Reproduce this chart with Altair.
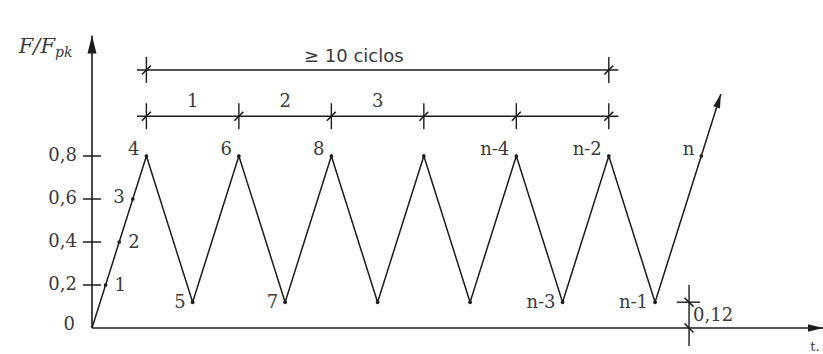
import math
import altair as alt
import pandas as pd

# ---- load cycle: F/Fpk against time (t in units where one F-unit rise = one t-unit) ----
CYCLE_T = [0, 0.8, 1.48, 2.16, 2.84, 3.52, 4.2, 4.88, 5.56, 6.24, 6.92, 7.6, 8.28, 9.248]
CYCLE_F = [0, 0.8, 0.12, 0.8, 0.12, 0.8, 0.12, 0.8, 0.12, 0.8, 0.12, 0.8, 0.12, 1.088]

# marked points on the first ramp
RAMP_LABELS = ["1", "2", "3"]
RAMP_T = [0.2, 0.4, 0.6]
RAMP_F = [0.2, 0.4, 0.6]

# peaks (F = 0.8) and valleys (F = 0.12)
PEAK_T = [0.8, 2.16, 3.52, 4.88, 6.24, 7.6, 8.96]
PEAK_LABELS = ["4", "6", "8", "", "n-4", "n-2", "n"]
VALLEY_T = [1.48, 2.84, 4.2, 5.56, 6.92, 8.28]
VALLEY_LABELS = ["5", "7", "", "", "n-3", "n-1"]
PEAK_F = 0.8
VALLEY_F = 0.12

# y axis tick values and their labels
Y_TICKS = [0.2, 0.4, 0.6, 0.8]
Y_LABEL_VALUES = [0, 0.2, 0.4, 0.6, 0.8]
Y_LABEL_TEXT = ["0", "0,2", "0,4", "0,6", "0,8"]

# cycle dimension lines
CYCLE_MARKS_T = [0.8, 2.16, 3.52, 4.88, 6.24, 7.6]
CYCLE_NUMBERS = ["1", "2", "3"]
CYCLE_NUMBER_T = [1.48, 2.84, 4.2]
DIM_LOW_F = 0.985
DIM_TOP_F = 1.2
DIM_TOP_TEXT = "≥ 10 ciclos"
DIM_TOP_TEXT_T = 3.85
DIM_OVERHANG = 0.14

# 0,12 offset dimension
OFFSET_T = 8.78
OFFSET_LINE_F = [-0.084, 0.2]
OFFSET_EXT_T = [8.6, 8.94]
OFFSET_TEXT = "0,12"

# axes extents
T_MAX = 10.75
Y_TIP = 1.36

PX_T = 68.0   # pixels per t unit
PX_F = 215.0  # pixels per F unit
W, H = 731, 328

INK = "#1c1c1c"
TXT = "#3a3a3a"
SERIF = "DejaVu Serif"

xs = alt.Scale(domain=[0, W / PX_T], nice=False, zero=False)
ys = alt.Scale(domain=[0, H / PX_F], nice=False, zero=False)


def X(f="t"):
    return alt.X(f"{f}:Q", scale=xs, axis=None)


def Y(f="F"):
    return alt.Y(f"{f}:Q", scale=ys, axis=None)


cycle_df = pd.DataFrame({"t": CYCLE_T, "F": CYCLE_F, "i": range(len(CYCLE_T))})

load_line = alt.Chart(cycle_df).mark_line(color=INK, strokeWidth=1.5).encode(
    x=X(), y=Y(), order="i:O"
)

# axis lines
y_axis_line = alt.Chart(pd.DataFrame({"t": [0], "F": [0], "F2": [Y_TIP]})).mark_rule(
    color=INK, strokeWidth=1.6
).encode(x=X(), y=Y(), y2="F2:Q")
x_axis_line = alt.Chart(pd.DataFrame({"t": [0], "t2": [T_MAX], "F": [0]})).mark_rule(
    color=INK, strokeWidth=1.6
).encode(x=X(), x2="t2:Q", y=Y())

ARROW = "M0,0L0.5,2L-0.5,2Z"
last_angle = math.degrees(math.atan2(PX_T * (CYCLE_T[-1] - CYCLE_T[-2]),
                                     PX_F * (CYCLE_F[-1] - CYCLE_F[-2])))
arrow_df = pd.DataFrame({
    "t": [0, T_MAX, CYCLE_T[-1]],
    "F": [Y_TIP, 0, CYCLE_F[-1]],
    "angle": [0, 90, last_angle],
    "size": [324, 225, 196],
})
arrows = alt.Chart(arrow_df).mark_point(
    shape=ARROW, filled=True, color=INK, opacity=1, strokeWidth=0
).encode(
    x=X(), y=Y(),
    angle=alt.Angle("angle:Q", scale=None),
    size=alt.Size("size:Q", scale=None),
)

# y ticks crossing the axis, with comma-decimal labels
y_ticks = alt.Chart(pd.DataFrame({"t": [0] * len(Y_TICKS), "F": Y_TICKS})).mark_tick(
    orient="horizontal", size=18, thickness=1.5, color=INK, opacity=1
).encode(x=X(), y=Y())

label_style = dict(font=SERIF, fontSize=18, color=TXT, baseline="middle")

ylab_df = pd.DataFrame({"t": [0] * len(Y_LABEL_VALUES), "F": Y_LABEL_VALUES, "lab": Y_LABEL_TEXT})
y_labels = alt.Chart(ylab_df.iloc[1:]).mark_text(align="right", dx=-15, **label_style).encode(
    x=X(), y=Y(), text="lab:N")
y_label_zero = alt.Chart(ylab_df.iloc[:1]).mark_text(align="right", dx=-17, dy=-3, **label_style).encode(
    x=X(), y=Y(), text="lab:N")

# dots on marked points
dot_df = pd.DataFrame({
    "t": RAMP_T + PEAK_T + VALLEY_T,
    "F": RAMP_F + [PEAK_F] * len(PEAK_T) + [VALLEY_F] * len(VALLEY_T),
})
dots = alt.Chart(dot_df).mark_circle(size=14, color=INK, opacity=1).encode(x=X(), y=Y())

ramp_df = pd.DataFrame({"t": RAMP_T, "F": RAMP_F, "lab": RAMP_LABELS})
ramp_right = alt.Chart(ramp_df.iloc[:2]).mark_text(align="left", dx=9, dy=1, **label_style).encode(
    x=X(), y=Y(), text="lab:N")
ramp_left = alt.Chart(ramp_df.iloc[2:]).mark_text(align="right", dx=-8, dy=-1, **label_style).encode(
    x=X(), y=Y(), text="lab:N")

peak_labels = alt.Chart(pd.DataFrame({"t": PEAK_T, "F": [PEAK_F] * len(PEAK_T), "lab": PEAK_LABELS})).mark_text(
    align="right", dx=-7, dy=-6, **label_style).encode(x=X(), y=Y(), text="lab:N")
valley_labels = alt.Chart(pd.DataFrame({"t": VALLEY_T, "F": [VALLEY_F] * len(VALLEY_T), "lab": VALLEY_LABELS})).mark_text(
    align="right", dx=-7, dy=1, **label_style).encode(x=X(), y=Y(), text="lab:N")

# cycle dimension lines
dim_lines_df = pd.DataFrame({
    "t": [CYCLE_MARKS_T[0] - DIM_OVERHANG] * 2,
    "t2": [CYCLE_MARKS_T[-1] + DIM_OVERHANG] * 2,
    "F": [DIM_LOW_F, DIM_TOP_F],
})
dim_lines = alt.Chart(dim_lines_df).mark_rule(color=INK, strokeWidth=1.4).encode(
    x=X(), x2="t2:Q", y=Y())

dim_marks_df = pd.DataFrame({
    "t": CYCLE_MARKS_T + [CYCLE_MARKS_T[0], CYCLE_MARKS_T[-1]],
    "F": [DIM_LOW_F] * len(CYCLE_MARKS_T) + [DIM_TOP_F] * 2,
})
dim_ticks = alt.Chart(dim_marks_df).mark_tick(
    orient="vertical", size=26, thickness=1.4, color=INK, opacity=1).encode(x=X(), y=Y())
dim_slashes = alt.Chart(dim_marks_df).mark_point(
    shape="M-1,1L1,-1", filled=False, size=80, strokeWidth=1.6, color=INK, opacity=1).encode(x=X(), y=Y())

cycle_numbers = alt.Chart(pd.DataFrame({"t": CYCLE_NUMBER_T, "F": [DIM_LOW_F] * 3, "lab": CYCLE_NUMBERS})).mark_text(
    align="center", dy=-14, **label_style).encode(x=X(), y=Y(), text="lab:N")
top_text = alt.Chart(pd.DataFrame({"t": [DIM_TOP_TEXT_T], "F": [DIM_TOP_F], "lab": [DIM_TOP_TEXT]})).mark_text(
    align="center", dy=-13, font="DejaVu Sans", fontSize=18, color=TXT, baseline="middle").encode(
    x=X(), y=Y(), text="lab:N")

# 0,12 offset dimension
off_line = alt.Chart(pd.DataFrame({"t": [OFFSET_T], "F": [OFFSET_LINE_F[0]], "F2": [OFFSET_LINE_F[1]]})).mark_rule(
    color=INK, strokeWidth=1.4).encode(x=X(), y=Y(), y2="F2:Q")
off_ext = alt.Chart(pd.DataFrame({"t": [OFFSET_EXT_T[0]], "t2": [OFFSET_EXT_T[1]], "F": [VALLEY_F]})).mark_rule(
    color=INK, strokeWidth=1.4).encode(x=X(), x2="t2:Q", y=Y())
off_slashes = alt.Chart(pd.DataFrame({"t": [OFFSET_T, OFFSET_T], "F": [VALLEY_F, 0]})).mark_point(
    shape="M-1,-1L1,1", filled=False, size=80, strokeWidth=1.6, color=INK, opacity=1).encode(x=X(), y=Y())
off_text = alt.Chart(pd.DataFrame({"t": [OFFSET_T], "F": [VALLEY_F / 2], "lab": [OFFSET_TEXT]})).mark_text(
    align="left", dx=4, dy=1, **label_style).encode(x=X(), y=Y(), text="lab:N")

# axis titles
y_title_F = alt.Chart(pd.DataFrame({"t": [0], "F": [1.307], "lab": ["F/F"]})).mark_text(
    align="right", dx=-37, font=SERIF, fontStyle="italic", fontSize=21, color=TXT, baseline="middle").encode(
    x=X(), y=Y(), text="lab:N")
y_title_sub = alt.Chart(pd.DataFrame({"t": [0], "F": [1.307], "lab": ["pk"]})).mark_text(
    align="left", dx=-37, dy=6, font=SERIF, fontStyle="italic", fontSize=14, color=TXT, baseline="middle").encode(
    x=X(), y=Y(), text="lab:N")
t_title = alt.Chart(pd.DataFrame({"t": [T_MAX], "F": [0], "lab": ["t."]})).mark_text(
    align="center", dx=-8, dy=19, font=SERIF, fontSize=13, color=TXT, baseline="middle").encode(
    x=X(), y=Y(), text="lab:N")

chart = alt.layer(
    load_line, y_axis_line, x_axis_line, arrows, y_ticks, y_labels, y_label_zero, dots,
    ramp_right, ramp_left, peak_labels, valley_labels,
    dim_lines, dim_ticks, dim_slashes, cycle_numbers, top_text,
    off_line, off_ext, off_slashes, off_text,
    y_title_F, y_title_sub, t_title,
).properties(
    width=W, height=H,
    autosize=alt.AutoSizeParams(type="none"),
    padding={"left": 92, "top": 0, "right": 0, "bottom": 26},
    background="white",
).configure_view(strokeWidth=0)

chart.save("out.html", embed_options={"renderer": "svg", "actions": False})
